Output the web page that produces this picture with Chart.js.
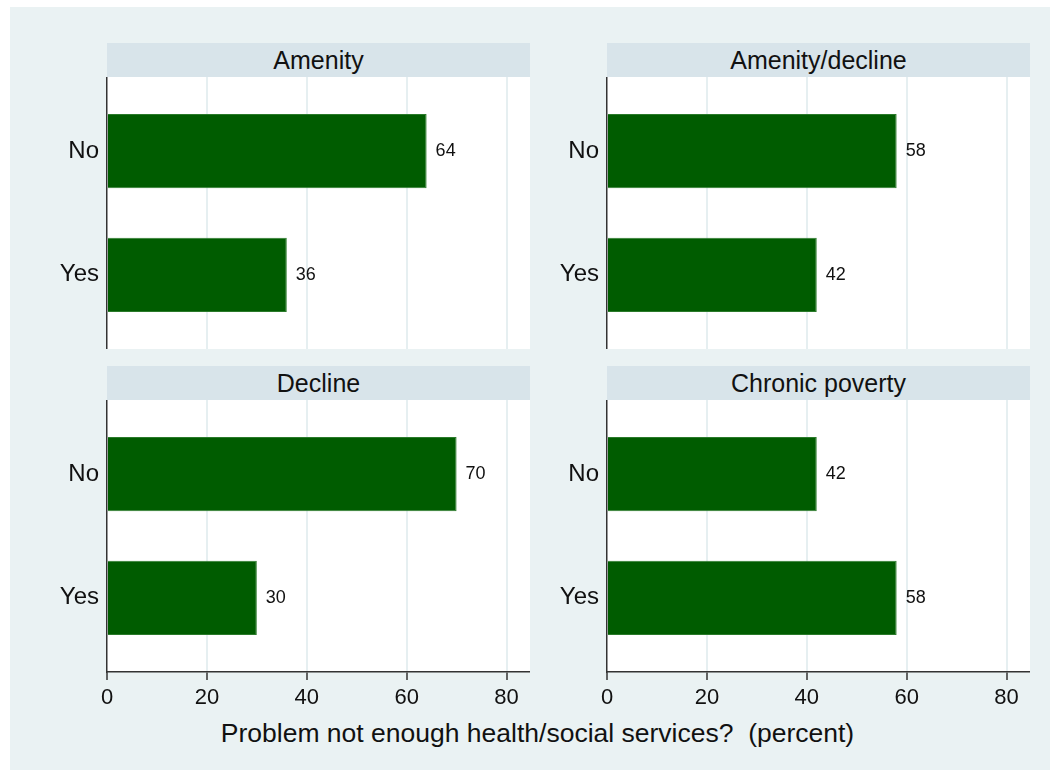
<!DOCTYPE html>
<html>
<head>
<meta charset="utf-8">
<script src="https://cdn.jsdelivr.net/npm/chart.js@4/dist/chart.umd.min.js"></script>
<style>
  html,body{margin:0;padding:0;background:#fff;}
  body{width:1050px;height:770px;position:relative;overflow:hidden;font-family:'Liberation Sans',Arial,sans-serif;}
  #bg{position:absolute;left:10px;top:7px;width:1040px;height:763px;background:#eaf2f3;}
  .hdr{position:absolute;height:34px;line-height:34px;background:#d8e4ea;text-align:center;font-size:25px;color:#111;}
  canvas{position:absolute;}
  #xtitle{position:absolute;left:0;width:1075px;top:720px;line-height:1;text-align:center;font-size:26.5px;color:#111;white-space:pre;}
</style>
</head>
<body>
<div id="bg"></div>
<div id="xtitle">Problem not enough health/social services?  (percent)</div>

<script>
// ====== DATA ======
const PANELS   = ['Amenity','Amenity/decline','Decline','Chronic poverty'];
const CATS     = ['No','Yes'];
const NO_VALS  = [64, 58, 70, 42];
const YES_VALS = [36, 42, 30, 58];
const X_TICKS  = [0, 20, 40, 60, 80];
const X_MAX    = 84.7;

// ====== LAYOUT ======
const PLOT_W = 423, PLOT_H = 272;
const SLOTS = [
  {canvasLeft:10,  yW:97, top:77,  hdrTop:43,  bottom:false},
  {canvasLeft:540, yW:67, top:77,  hdrTop:43,  bottom:false},
  {canvasLeft:10,  yW:97, top:400, hdrTop:366, bottom:true},
  {canvasLeft:540, yW:67, top:400, hdrTop:366, bottom:true}
];
const FONT = "'Liberation Sans', Arial, sans-serif";
const BAR_COLOR = '#005c00';

// white plot region + value labels
const plotBg = {
  id:'plotBg',
  beforeDraw(chart){
    const a=chart.chartArea, c=chart.ctx;
    c.save(); c.fillStyle='#fff'; c.fillRect(a.left,a.top,a.right-a.left,a.bottom-a.top); c.restore();
  }
};
const valueLabels = {
  id:'valueLabels',
  afterDatasetsDraw(chart){
    const c=chart.ctx;
    const meta=chart.getDatasetMeta(0);
    c.save();
    c.font='18px '+FONT; c.fillStyle='#111'; c.textAlign='left'; c.textBaseline='middle';
    meta.data.forEach((bar,i)=>{
      const v=chart.data.datasets[0].data[i].x;
      c.fillText(String(v), bar.x+9, bar.y);
    });
    c.restore();
  }
};

function noPad(sc){ sc.paddingTop=0; sc.paddingBottom=0; sc.paddingLeft=0; sc.paddingRight=0; }

function makePanel(i){
  const s=SLOTS[i];
  const hdr=document.createElement('div');
  hdr.className='hdr'; hdr.textContent=PANELS[i];
  hdr.style.left=(s.canvasLeft+s.yW)+'px'; hdr.style.top=s.hdrTop+'px'; hdr.style.width=PLOT_W+'px';
  document.body.appendChild(hdr);

  const xH = s.bottom ? 45 : 0;
  const cv=document.createElement('canvas');
  cv.width=s.yW+PLOT_W; cv.height=PLOT_H+xH;
  cv.style.left=s.canvasLeft+'px'; cv.style.top=s.top+'px';
  document.body.appendChild(cv);

  new Chart(cv.getContext('2d'),{
    type:'bar',
    data:{datasets:[{
      data:[{y:0,x:NO_VALS[i]},{y:1,x:YES_VALS[i]}],
      backgroundColor:BAR_COLOR, borderColor:'#2a7a2a', borderWidth:1,
      barPercentage:0.6, categoryPercentage:1
    }]},
    options:{
      indexAxis:'y', responsive:false, animation:false,
      layout:{padding:0},
      plugins:{legend:{display:false},tooltip:{enabled:false}},
      scales:{
        x:{
          type:'linear', min:0, max:X_MAX, offset:false,
          afterBuildTicks(sc){ sc.ticks=X_TICKS.map(v=>({value:v})); },
          afterFit(sc){ sc.height=xH; noPad(sc); },
          ticks:{display:s.bottom, color:'#111', font:{family:FONT,size:22}, padding:5, maxRotation:0},
          grid:{color:ctx=>ctx.tick && ctx.tick.value===0 ? 'rgba(0,0,0,0)' : '#e6eff1', lineWidth:2,
                drawTicks:s.bottom, tickLength:8, tickColor:'#333', tickWidth:1.5},
          border:{display:s.bottom, color:'#333', width:1.5}
        },
        y:{
          type:'linear', min:-0.6, max:1.6, reverse:true, offset:false,
          afterBuildTicks(sc){ sc.ticks=CATS.map((c,k)=>({value:k})); },
          afterFit(sc){ sc.width=s.yW; noPad(sc); },
          ticks:{callback:v=>CATS[v], color:'#111', font:{family:FONT,size:24}, padding:8},
          grid:{display:false, drawTicks:false, offset:false},
          border:{display:true, color:'#333', width:1.5}
        }
      }
    },
    plugins:[plotBg, valueLabels]
  });
}

PANELS.forEach((p,i)=>makePanel(i));
</script>
</body>
</html>
